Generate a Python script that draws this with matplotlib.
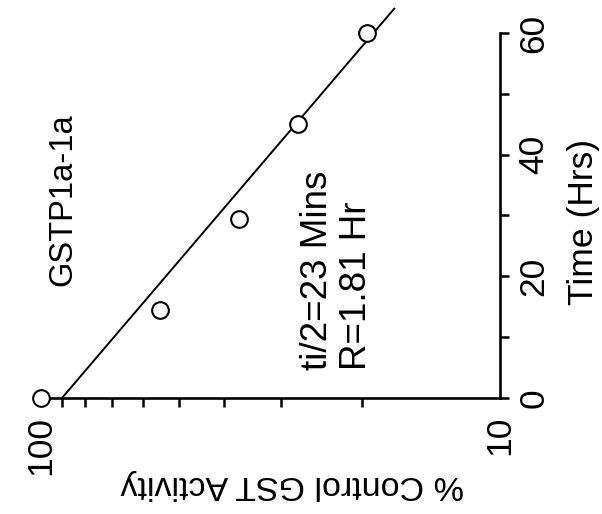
import matplotlib
matplotlib.use("Agg")
import matplotlib.pyplot as plt
from matplotlib.ticker import FixedLocator, NullFormatter, FixedFormatter

# sampled points
time_hrs = [0, 14.5, 29.5, 45, 60]
activity_pct = [100, 55, 37, 27.5, 19.5]

# fitted decay line end points
fit_time = [0, 64]
fit_activity = [90, 17]

time_ticks = [0, 20, 40, 60]
time_minor = [10, 30, 50]
act_ticks = [100, 10]
act_tick_labels = ["100", "10"]
act_minor = [90, 80, 70, 60, 50, 40, 30, 20]

plt.rcParams["font.family"] = ["Liberation Sans", "DejaVu Sans"]

fig = plt.figure(figsize=(6.02, 5.14), dpi=100)
ax = fig.add_axes([0.0681, 0.2257, 0.7625, 0.7101])

# activity runs along the bottom (log, reversed), time up the right side
ax.set_xscale("log")
ax.set_xlim(100, 10)
ax.set_ylim(0, 60)

ax.plot(fit_activity, fit_time, color="black", lw=1.4, clip_on=False, zorder=2)
ax.plot(activity_pct, time_hrs, "o", ms=12, mfc="white", mec="black", mew=1.5,
        clip_on=False, zorder=3)

for side in ["left", "top"]:
  ax.spines[side].set_visible(False)
for side in ["bottom", "right"]:
  ax.spines[side].set_linewidth(1.9)

ax.yaxis.tick_right()
ax.xaxis.set_major_locator(FixedLocator(act_ticks))
ax.xaxis.set_major_formatter(FixedFormatter(act_tick_labels))
ax.xaxis.set_minor_locator(FixedLocator(act_minor))
ax.xaxis.set_minor_formatter(NullFormatter())
ax.yaxis.set_major_locator(FixedLocator(time_ticks))
ax.yaxis.set_minor_locator(FixedLocator(time_minor))

ax.tick_params(axis="x", which="major", length=0, pad=13, labelsize=25.5, labelrotation=90)
ax.tick_params(axis="x", which="minor", direction="out", length=6.5, width=1.8)
ax.tick_params(axis="y", which="both", direction="out", length=6.5, width=1.8,
               right=True, left=False)
ax.tick_params(axis="y", which="major", pad=6, labelsize=25.5, labelrotation=90)
for lab in ax.get_yticklabels():
  lab.set_verticalalignment("center")

ax.set_xlabel("% Control GST Activity", fontsize=24.5, rotation=180, va="center", ha="center")
ax.xaxis.set_label_coords(0.547, -0.238)

ax.yaxis.set_label_position("right")
ax.set_ylabel("Time (Hrs)", fontsize=25.5, rotation=90, va="center", ha="center",
              rotation_mode="default")
ax.yaxis.set_label_coords(1.181, 0.482)

ax.text(0.048, 0.542, "GSTP1a-1a", transform=ax.transAxes, fontsize=23.5,
        rotation=90, ha="center", va="center")
ax.text(0.645, 0.077, "ti/2=23 Mins\nR=1.81 Hr", transform=ax.transAxes, fontsize=26.5,
        rotation=90, ha="center", va="bottom", multialignment="left", linespacing=1.12)

fig.savefig("out.png", dpi=100, facecolor="white")
